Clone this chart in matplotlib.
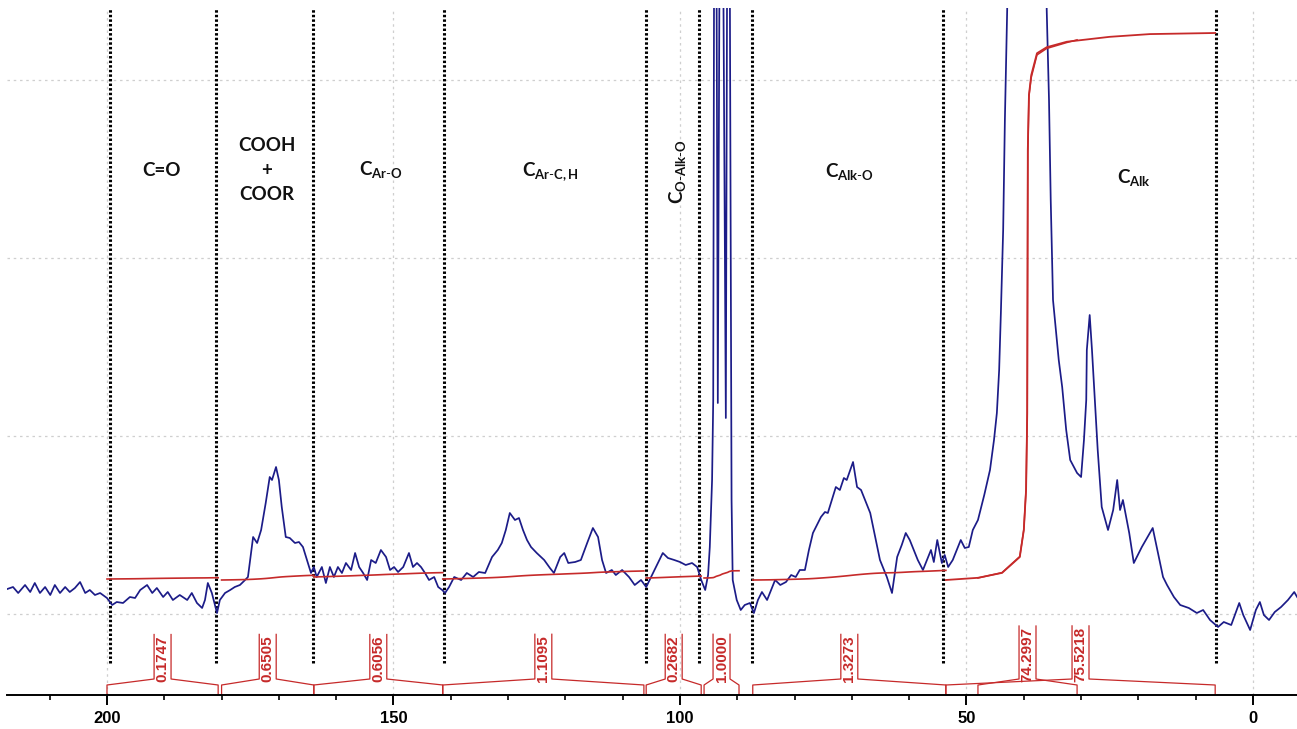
import numpy as np
import matplotlib.pyplot as plt
from matplotlib.ticker import MultipleLocator

plt.rcParams['mathtext.fontset'] = 'custom'
plt.rcParams['mathtext.rm'] = 'Lato'
plt.rcParams['mathtext.bf'] = 'Lato:bold'
plt.rcParams['mathtext.it'] = 'Lato:italic'

# 13C spectrum: chemical shift (ppm) and intensity (arb. units, 0 = lowest grid line)
# peaks that run off the top of the scale are given as 800
ppm = [217.4, 216.4, 215.5, 214.3, 213.4, 212.6, 211.7, 210.8, 209.9, 209.1,
       208.2, 207.3, 206.5, 205.6, 204.7, 203.8, 203.0, 202.1, 201.2, 200.0,
       199.1, 198.3, 197.2, 196.0, 195.1, 194.2, 193.0, 192.1, 191.3, 190.2,
       189.4, 188.5, 187.3, 186.0, 185.2, 184.3, 183.4, 182.9, 182.4, 181.7,
       180.8, 180.3, 179.4, 178.5, 177.7, 176.8, 175.9, 175.4, 174.5, 173.8,
       173.1, 172.3, 171.6, 171.2, 170.5, 170.0, 169.5, 168.8, 168.1, 167.2,
       166.5, 165.8, 165.1, 164.4, 163.9, 163.4, 162.5, 161.8, 161.1, 160.4,
       159.7, 159.0, 158.3, 157.4, 156.7, 156.0, 155.3, 154.6, 153.9, 153.1,
       152.2, 151.3, 150.6, 149.9, 149.2, 148.3, 147.3, 146.6, 145.9, 145.2,
       144.5, 143.8, 142.9, 142.2, 141.5, 141.0, 140.3, 139.4, 138.2, 137.2,
       136.1, 135.1, 134.0, 132.8, 131.8, 131.1, 130.4, 129.7, 128.8, 128.1,
       127.4, 126.7, 126.0, 125.0, 123.7, 122.7, 122.0, 120.9, 120.2, 119.5,
       118.3, 117.3, 116.2, 115.2, 114.3, 113.6, 112.9, 111.9, 111.2, 110.1,
       108.9, 107.9, 106.8, 105.9, 104.7, 103.0, 102.1, 101.0, 100.0, 99.0,
       97.9, 97.0, 96.3, 95.6, 95.1, 94.8, 94.4, 94.2, 94.0, 93.7,
       93.4, 93.0, 92.6, 92.0, 91.7, 91.4, 91.0, 90.8, 90.1, 89.4,
       88.7, 87.8, 87.1, 86.4, 85.7, 84.8, 84.1, 83.4, 82.5, 81.5,
       80.6, 79.8, 79.1, 78.2, 77.5, 76.8, 76.1, 75.4, 74.7, 74.2,
       73.5, 72.8, 72.1, 71.4, 70.9, 70.3, 69.8, 69.1, 68.4, 67.7,
       66.8, 66.0, 65.1, 64.4, 63.9, 63.0, 62.1, 61.3, 60.6, 59.9,
       59.2, 58.5, 57.6, 56.9, 56.2, 55.7, 55.1, 54.3, 53.8, 53.2,
       52.4, 51.7, 51.0, 50.3, 49.6, 48.9, 48.0, 46.9, 45.9, 45.2,
       44.7, 44.3, 44.0, 43.6, 43.3, 42.9, 42.6, 36.2, 36.0, 35.6,
       35.3, 34.9, 34.4, 33.9, 33.3, 32.6, 31.9, 30.7, 30.0, 29.5,
       29.1, 29.0, 28.5, 28.1, 27.6, 27.1, 26.4, 25.3, 24.4, 23.7,
       23.2, 22.7, 21.6, 20.8, 20.1, 19.4, 18.7, 17.5, 16.8, 15.7,
       15.0, 13.8, 12.7, 11.2, 9.8, 8.7, 7.5, 6.1, 5.1, 3.8,
       2.4, 1.7, 0.5, -0.5, -1.2, -1.9, -2.8, -3.8, -4.9, -6.1,
       -7.2, -7.7]
intensity = [25, 27, 21, 29, 22, 31, 21, 27, 19, 29,
             21, 27, 22, 26, 32, 21, 24, 19, 21, 16,
             9, 12, 11, 17, 16, 24, 29, 21, 26, 17,
             22, 14, 19, 14, 21, 11, 6, 14, 31, 21,
             1, 14, 21, 24, 27, 29, 34, 37, 77, 71,
             84, 111, 137, 134, 147, 134, 107, 77, 76, 71,
             72, 67, 54, 41, 47, 37, 47, 31, 47, 37,
             47, 41, 51, 44, 61, 47, 41, 34, 54, 51,
             64, 57, 44, 47, 42, 47, 61, 47, 51, 47,
             41, 34, 37, 27, 24, 21, 27, 37, 34, 41,
             37, 42, 41, 57, 64, 71, 84, 101, 94, 96,
             84, 74, 67, 61, 54, 46, 41, 57, 61, 51,
             52, 54, 71, 86, 77, 54, 41, 44, 39, 44,
             37, 29, 34, 27, 41, 61, 56, 54, 52, 49,
             51, 47, 34, 24, 39, 67, 134, 214, 800, 800,
             211, 800, 800, 196, 800, 800, 114, 34, 14, 4,
             9, 11, 1, 14, 22, 14, 24, 34, 29, 32,
             39, 37, 44, 44, 64, 81, 89, 97, 102, 101,
             114, 127, 124, 136, 134, 144, 152, 127, 124, 114,
             101, 79, 54, 44, 37, 21, 57, 69, 81, 74,
             64, 54, 44, 54, 64, 52, 74, 51, 59, 47,
             54, 64, 74, 66, 67, 84, 94, 119, 144, 174,
             201, 244, 301, 384, 494, 604, 800, 800, 604, 514,
             414, 314, 284, 254, 227, 184, 154, 141, 137, 174,
             214, 264, 299, 264, 214, 164, 107, 84, 104, 134,
             104, 114, 81, 51, 59, 67, 74, 86, 67, 37,
             29, 17, 9, 6, 1, 4, -6, -13, -8, -11,
             11, -1, -16, 4, 12, -1, -6, 2, 7, 14,
             22, 17]

# dotted boundaries between the assignment regions
boundaries = [199.5, 180.9, 164.0, 141.2, 105.9, 96.7, 87.4, 54.1, 6.5]

# integration ranges, integral values and baseline level of each integral curve
int_start = [200.0, 180.0, 163.9, 141.4, 105.9, 95.8, 87.3, 53.6, 48.0]
int_end = [180.6, 163.9, 141.4, 106.3, 96.3, 89.7, 53.6, 6.6, 30.7]
int_value = [0.1747, 0.6505, 0.6056, 1.1095, 0.2682, 1.0000, 1.3273, 75.5218, 74.2997]
int_level = [35, 34, 37, 35, 36, 36, 34, 34, 36]

# running integral (fraction of total) over the aliphatic ranges,
# whose main peak is off scale
alk_ppm = [53.6, 48.0, 43.8, 40.7, 40.0, 39.6, 39.4, 39.3, 39.1, 38.7,
           37.7, 36.0, 32.5, 25.0, 18.0, 6.6]
alk_frac = [0.0, 0.004, 0.013, 0.042, 0.091, 0.165, 0.305, 0.786, 0.887, 0.923,
            0.963, 0.974, 0.984, 0.993, 0.998, 1.0]
alk2_ppm = [48.0, 43.8, 40.7, 40.0, 39.6, 39.4, 39.3, 39.1, 38.7, 37.7,
            36.0, 32.5, 30.7]
alk2_frac = [0.0, 0.010, 0.040, 0.090, 0.165, 0.310, 0.790, 0.895, 0.930, 0.972,
             0.984, 0.995, 1.0]

region_labels = ['C=O', 'COOH\n+\nCOOR',
                 r'$\mathbf{C}_{\mathbf{Ar}\text{-}\mathbf{O}}$',
                 r'$\mathbf{C}_{\mathbf{Ar}\text{-}\mathbf{C,H}}$',
                 r'$\mathbf{C}_{\mathbf{O}\text{-}\mathbf{Alk}\text{-}\mathbf{O}}$',
                 r'$\mathbf{C}_{\mathbf{Alk}\text{-}\mathbf{O}}$',
                 r'$\mathbf{C}_{\mathbf{Alk}}$']
label_ppm = [190.4, 172.1, 152.2, 122.7, 100.5, 70.5, 20.8]
label_y = [444, 444, 444, 442, 442, 442, 437]
label_rot = [0, 0, 0, 0, 90, 0, 0]

INT_SCALE = 7.243      # height of one integral unit
RED = '#c62a2a'
BLUE = '#1c1c88'

fig = plt.figure(figsize=(12.97, 7.29), dpi=100)
ax = fig.add_axes([7 / 1297, 34 / 729, 1290 / 1297, 687 / 729])
ax.set_xlim(217.45, -7.68)
ax.set_ylim(-81, 606)

# grid
ax.xaxis.set_major_locator(MultipleLocator(50))
ax.xaxis.set_minor_locator(MultipleLocator(10))
ax.set_yticks([0, 178, 356, 534])
ax.grid(True, color='#cfcfcf', linestyle=(0, (2, 3)), linewidth=0.9)
ax.set_axisbelow(True)

for side in ['left', 'right', 'top']:
    ax.spines[side].set_visible(False)
ax.spines['bottom'].set_linewidth(1.4)
ax.tick_params(axis='y', left=False, labelleft=False)
ax.tick_params(axis='x', which='major', direction='out', length=7.2, width=1.4, pad=4)
ax.tick_params(axis='x', which='minor', direction='out', length=3.6, width=1.2)
for lbl in ax.get_xticklabels():
    lbl.set_fontfamily('Liberation Sans')
    lbl.set_fontweight('bold')
    lbl.set_fontsize(12)

# region separators
ax.vlines(boundaries, -49, 606, colors='black', linestyles=(0, (0.8, 0.7)), linewidth=2.2)

# spectrum
ax.plot(ppm, intensity, color=BLUE, linewidth=1.25, zorder=3)

# integral curves
spec_x = np.array(ppm)
spec_y = np.array(intensity, dtype=float)
for s, e, v, lvl in list(zip(int_start, int_end, int_value, int_level))[:7]:
    inside = (spec_x < s) & (spec_x > e)
    xs = np.concatenate([[s], spec_x[inside], [e]])
    ys = np.clip(np.interp(xs, spec_x[::-1], spec_y[::-1]), 0, None)
    cum = np.concatenate([[0], np.cumsum(0.5 * (ys[1:] + ys[:-1]) * np.abs(np.diff(xs)))])
    ax.plot(xs, lvl + v * INT_SCALE * cum / cum[-1], color=RED, linewidth=1.2, zorder=4)

ax.plot(alk_ppm, int_level[7] + int_value[7] * INT_SCALE * np.array(alk_frac),
        color=RED, linewidth=1.3, zorder=4)
ax.plot(alk2_ppm, int_level[8] + int_value[8] * INT_SCALE * np.array(alk2_frac),
        color=RED, linewidth=1.1, zorder=4)

# integral brackets with their values
half = 1.48
texts = []
for s, e, v in zip(int_start, int_end, int_value):
    c = (s + e) / 2
    t = ax.text(c, -68.5, '%.4f' % v, rotation=90, ha='center', va='bottom',
                color=RED, fontsize=11, fontweight='bold', family='Liberation Sans',
                zorder=5)
    texts.append(t)

fig.canvas.draw()
inv = ax.transData.inverted()
for s, e, t in zip(int_start, int_end, texts):
    c = (s + e) / 2
    top = inv.transform((0, t.get_window_extent().y1))[1] + 1.5
    ax.plot([s, s, c + half, c + half], [-81, -71, -65, top], color=RED, linewidth=0.9)
    ax.plot([c - half, c - half, e, e], [top, -65, -71, -81], color=RED, linewidth=0.9)

# region assignments
for lab, x, y, rot in zip(region_labels, label_ppm, label_y, label_rot):
    ax.text(x, y, lab, ha='center', va='center', rotation=rot, fontsize=13.5,
            family='Lato', fontweight='bold', linespacing=1.55, color='#111111')

fig.savefig('out.png', dpi=100)
